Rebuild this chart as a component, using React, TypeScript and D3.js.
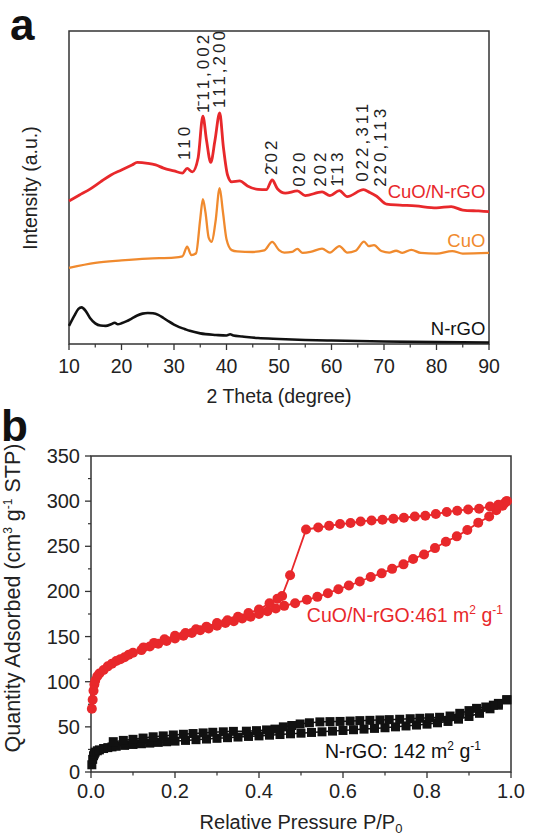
import * as d3 from 'd3'

const FONT = '"Liberation Sans", Arial, Helvetica, sans-serif'

// ---- panel a: XRD patterns, [2theta, intensity (a.u.)]
const nrgoXrd: [number, number][] = [
  [10, 5.8], [11, 9.0], [11.8, 11.2], [12.4, 11.7], [13.2, 10.5], [14, 8.3], [15, 6.6], [16, 5.9],
  [17, 5.8], [18, 6.3], [18.7, 6.8], [19.3, 6.3], [20, 6.6], [21, 7.3], [22, 8.2], [23, 9.1],
  [24, 9.7], [25, 9.9], [26, 9.8], [27, 9.3], [28, 8.3], [29, 7.2], [30, 6.2], [31, 5.4],
  [32, 4.8], [33, 4.2], [35, 3.4], [38, 2.9], [40, 2.7], [40.7, 3.1], [41.3, 2.7], [43, 2.4],
  [46, 1.9], [50, 1.6], [55, 1.3], [60, 1.1], [70, 0.8], [80, 0.6], [90, 0.5],
]

const cuoXrd: [number, number][] = [
  [10, 24.3], [15, 25.9], [20, 26.7], [25, 27.3], [30, 27.6], [31.6, 28], [32.5, 31.1], [33.3, 28.4],
  [34.2, 29], [35, 40], [35.5, 46.3], [36, 42], [36.6, 34], [37.2, 32.6], [37.9, 39], [38.7, 49.8],
  [39.3, 42.5], [40, 33.5], [41, 30], [42, 29.6], [45, 29.4], [47.2, 29.9], [48.7, 32.6], [50, 30],
  [51, 29.2], [52.5, 29.4], [53.5, 30.4], [54.5, 29.1], [56, 29.4], [58.2, 30.5], [59.7, 29.2],
  [61.5, 31.3], [63, 29.2], [64.6, 29.8], [66.2, 32.7], [67.1, 31.3], [68.1, 31.6], [69.5, 29.7],
  [71, 29.2], [72.3, 29.8], [73.5, 29.1], [75.2, 30.1], [77, 29.1], [80, 28.9], [83, 29.7],
  [85, 28.9], [90, 29.1],
]

const compositeXrd: [number, number][] = [
  [10, 45.7], [12, 47.6], [14, 49.5], [16, 51.8], [18, 54], [20, 55.6], [22, 57.2], [23, 58],
  [25, 57.7], [26.5, 57.2], [28, 56.2], [30, 55.3], [31.6, 54.6], [32.5, 56.1], [33.5, 55],
  [34.6, 59.5], [35.5, 72.8], [36.2, 65], [37, 58], [37.8, 65], [38.7, 73.8], [39.4, 63],
  [40.2, 54], [41, 51.8], [42.5, 52.1], [44, 50.5], [46, 49.4], [47.6, 49.3], [48.7, 52.4],
  [49.7, 49.6], [51.2, 48.2], [53.5, 48.9], [55, 47.4], [58.2, 48.6], [59.7, 47.4], [61.5, 49],
  [63, 47.1], [66.1, 49.3], [67.3, 48.4], [68.6, 47.2], [70.5, 44.7], [73, 44.4], [76, 44.1],
  [80, 43.5], [82.8, 43.9], [85, 42.8], [88, 42.5], [90, 42.3],
]

const xrdTicks = [10, 20, 30, 40, 50, 60, 70, 80, 90]
const xrdMinor = [15, 25, 35, 45, 55, 65, 75, 85]

// hkl labels: text, 2theta, intensity at the foot of the label
const hklLabels: [string, number, number][] = [
  ['110', 31.9, 58.8],
  ['1\u030411,002', 35.5, 73.8],
  ['111,200', 38.6, 75.4],
  ['2\u030402', 48.5, 54],
  ['020', 53.8, 50.2],
  ['202', 57.8, 50.2],
  ['1\u030413', 61.0, 50.2],
  ['022,311', 65.8, 51.8],
  ['220,113', 69.2, 50.2],
]

// ---- panel b: N2 isotherms, [P/P0, quantity adsorbed]
const compAds: [number, number][] = [
  [0.002, 70], [0.004, 80], [0.006, 90], [0.008, 97], [0.01, 101], [0.015, 106], [0.02, 109],
  [0.03, 113], [0.04, 117], [0.05, 120], [0.06, 123], [0.07, 125], [0.08, 127], [0.09, 130],
  [0.1, 132], [0.12, 135], [0.14, 139], [0.16, 142], [0.18, 145], [0.2, 148], [0.22, 151],
  [0.24, 154], [0.26, 157], [0.28, 159], [0.3, 162], [0.32, 165], [0.34, 167], [0.36, 170],
  [0.38, 172], [0.4, 175], [0.42, 178], [0.44, 181], [0.46, 184], [0.486, 187], [0.514, 190.7],
  [0.539, 194], [0.564, 198], [0.589, 202.5], [0.614, 206.5], [0.64, 211], [0.666, 216],
  [0.692, 220], [0.717, 225], [0.744, 230], [0.767, 236], [0.793, 241], [0.819, 248],
  [0.845, 255], [0.871, 261], [0.896, 268], [0.922, 276], [0.948, 283], [0.965, 290],
  [0.98, 295], [0.99, 300],
]

const compDes: [number, number][] = [
  [0.99, 300], [0.985, 298], [0.97, 296], [0.95, 294], [0.924, 291.6], [0.898, 290.8],
  [0.872, 289.4], [0.847, 288], [0.821, 285.7], [0.796, 283.8], [0.771, 283], [0.745, 281.6],
  [0.72, 280.5], [0.694, 279.4], [0.668, 278.6], [0.642, 277.5], [0.618, 275.7], [0.593, 274.6],
  [0.567, 272.7], [0.541, 270.8], [0.512, 268.5], [0.474, 218], [0.455, 195], [0.444, 192],
  [0.425, 187], [0.4, 180], [0.375, 176], [0.35, 172], [0.325, 168], [0.3, 165], [0.275, 161],
  [0.25, 158], [0.225, 154], [0.2, 151], [0.175, 147], [0.15, 143], [0.125, 138],
]

const nrgoAds: [number, number][] = [
  [0.002, 8], [0.004, 14], [0.006, 18], [0.008, 20], [0.01, 22], [0.015, 23.5], [0.02, 24.5],
  [0.03, 26], [0.04, 27], [0.05, 27.8], [0.06, 28.5], [0.08, 29.5], [0.1, 30.5], [0.12, 31.3],
  [0.14, 32], [0.16, 32.8], [0.18, 33.5], [0.2, 34.2], [0.225, 35], [0.25, 35.8], [0.275, 36.5],
  [0.3, 37.3], [0.325, 38], [0.35, 38.7], [0.375, 39.4], [0.4, 40], [0.425, 40.8], [0.45, 41.5],
  [0.475, 42.3], [0.5, 43], [0.525, 43.8], [0.55, 44.5], [0.575, 45.3], [0.6, 46], [0.625, 46.8],
  [0.65, 47.5], [0.675, 48.3], [0.7, 49], [0.725, 50], [0.75, 51], [0.775, 52], [0.8, 53],
  [0.825, 54.5], [0.85, 56], [0.875, 58.5], [0.9, 61.5], [0.925, 65], [0.95, 70], [0.97, 74],
  [0.99, 80],
]

const nrgoDes: [number, number][] = [
  [0.99, 80], [0.97, 76], [0.958, 74], [0.94, 72], [0.918, 70.5], [0.9, 68], [0.878, 65],
  [0.855, 62], [0.83, 60.6], [0.806, 60], [0.783, 59.5], [0.76, 59], [0.735, 58.4], [0.71, 58],
  [0.688, 57.6], [0.664, 57.2], [0.64, 56.9], [0.617, 56.4], [0.593, 56], [0.569, 55.8],
  [0.545, 55.5], [0.52, 54.5], [0.498, 53.2], [0.478, 51.5], [0.458, 50], [0.438, 47.5],
  [0.418, 46.6], [0.394, 45.8], [0.37, 45.2], [0.339, 45], [0.315, 44.5], [0.29, 44],
  [0.267, 43.3], [0.243, 42.6], [0.22, 41.8], [0.196, 41], [0.172, 40], [0.148, 39],
  [0.124, 37.6], [0.1, 36.2], [0.077, 35], [0.053, 33.6],
]

const qTicks = [0, 50, 100, 150, 200, 250, 300, 350]
const qMinor = [25, 75, 125, 175, 225, 275, 325]
const pTicks = [0, 0.2, 0.4, 0.6, 0.8, 1.0]
const pMinor = [0.1, 0.3, 0.5, 0.7, 0.9]

const RED = '#e8282b'
const ORANGE = '#f08a2e'
const BLACK = '#111'
const AXIS = '#333'

export default function App() {
  // panel a scales
  const xA = d3.scaleLinear().domain([10, 90]).range([69, 489])
  const yA = d3.scaleLinear().domain([0, 100]).range([344, 31])
  const lineA = d3
    .line<[number, number]>()
    .x((d) => xA(d[0]))
    .y((d) => yA(d[1]))
    .curve(d3.curveMonotoneX)

  // panel b scales
  const xB = d3.scaleLinear().domain([0, 1]).range([91, 511])
  const yB = d3.scaleLinear().domain([0, 350]).range([772, 456])
  const lineB = d3
    .line<[number, number]>()
    .x((d) => xB(d[0]))
    .y((d) => yB(d[1]))

  const sup = (s: string) => (
    <>
      <tspan dy={-8} fontSize={12}>
        {s}
      </tspan>
      <tspan dy={8}> </tspan>
    </>
  )

  return (
    <svg
      width={534}
      height={837}
      style={{ position: 'absolute', left: 0, top: 0, background: '#fff' }}
      fontFamily={FONT}
    >
      {/* ---------- panel a ---------- */}
      <text x={10} y={40} fontSize={44} fontWeight='bold' fill='#111'>
        a
      </text>
      <rect x={69} y={31} width={420} height={313} fill='none' stroke={AXIS} strokeWidth={1.5} />
      {xrdTicks.map((t) => (
        <g key={'ta' + t}>
          <line x1={xA(t)} x2={xA(t)} y1={344} y2={350} stroke={AXIS} strokeWidth={1.3} />
          <text x={xA(t)} y={373} fontSize={19.5} textAnchor='middle' fill='#222'>
            {t}
          </text>
        </g>
      ))}
      {xrdMinor.map((t) => (
        <line key={'ma' + t} x1={xA(t)} x2={xA(t)} y1={344} y2={347.5} stroke={AXIS} strokeWidth={1.2} />
      ))}
      <text x={279} y={403} fontSize={19.5} textAnchor='middle' fill='#222'>
        2 Theta (degree)
      </text>
      <text transform='translate(37,188) rotate(-90)' fontSize={19.5} textAnchor='middle' fill='#222'>
        Intensity (a.u.)
      </text>

      <path d={lineA(nrgoXrd) ?? ''} fill='none' stroke={BLACK} strokeWidth={2.6} />
      <path d={lineA(cuoXrd) ?? ''} fill='none' stroke={ORANGE} strokeWidth={2.3} />
      <path d={lineA(compositeXrd) ?? ''} fill='none' stroke={RED} strokeWidth={2.8} />

      {hklLabels.map(([label, th, v]) => (
        <text
          key={label}
          transform={`translate(${xA(th) + 6},${yA(v)}) rotate(-90)`}
          fontSize={17}
          letterSpacing={3}
          fill='#222'
        >
          {label}
        </text>
      ))}

      <text x={xA(89.3)} y={198} fontSize={18.5} textAnchor='end' fill={RED}>
        CuO/N-rGO
      </text>
      <text x={xA(89.3)} y={247} fontSize={18.5} textAnchor='end' fill={ORANGE}>
        CuO
      </text>
      <text x={xA(89.3)} y={335} fontSize={18.5} textAnchor='end' fill={BLACK}>
        N-rGO
      </text>

      {/* ---------- panel b ---------- */}
      <text x={1} y={441} fontSize={44} fontWeight='bold' fill='#111'>
        b
      </text>
      <rect x={91} y={456} width={420} height={316} fill='none' stroke={AXIS} strokeWidth={1.5} />
      {qTicks.map((t) => (
        <g key={'tq' + t}>
          <line x1={85} x2={91} y1={yB(t)} y2={yB(t)} stroke={AXIS} strokeWidth={1.3} />
          <text x={80} y={yB(t) + 7} fontSize={20} textAnchor='end' fill='#222'>
            {t}
          </text>
        </g>
      ))}
      {qMinor.map((t) => (
        <line key={'mq' + t} x1={88} x2={91} y1={yB(t)} y2={yB(t)} stroke={AXIS} strokeWidth={1.2} />
      ))}
      {pTicks.map((t) => (
        <g key={'tp' + t}>
          <line x1={xB(t)} x2={xB(t)} y1={772} y2={778} stroke={AXIS} strokeWidth={1.3} />
          <text x={xB(t)} y={798} fontSize={20} textAnchor='middle' fill='#222'>
            {t.toFixed(1)}
          </text>
        </g>
      ))}
      {pMinor.map((t) => (
        <line key={'mp' + t} x1={xB(t)} x2={xB(t)} y1={772} y2={775.5} stroke={AXIS} strokeWidth={1.2} />
      ))}
      <text x={301} y={829} fontSize={20} textAnchor='middle' fill='#222'>
        Relative Pressure P/P
        <tspan dy={4} fontSize={13}>
          0
        </tspan>
      </text>
      <text transform='translate(20,598) rotate(-90)' fontSize={21.5} textAnchor='middle' fill='#222'>
        Quantity Adsorbed (cm{sup('3')}g{sup('-1')}STP)
      </text>

      {/* N-rGO isotherm */}
      <path d={lineB(nrgoAds) ?? ''} fill='none' stroke={BLACK} strokeWidth={1.5} />
      <path d={lineB(nrgoDes) ?? ''} fill='none' stroke={BLACK} strokeWidth={1.5} />
      {[...nrgoAds, ...nrgoDes].map((d, i) => (
        <rect key={'sq' + i} x={xB(d[0]) - 4.5} y={yB(d[1]) - 4.5} width={9} height={9} fill={BLACK} />
      ))}

      {/* CuO/N-rGO isotherm */}
      <path d={lineB(compAds) ?? ''} fill='none' stroke={RED} strokeWidth={1.8} />
      <path d={lineB(compDes) ?? ''} fill='none' stroke={RED} strokeWidth={1.8} />
      {[...compAds, ...compDes].map((d, i) => (
        <circle key={'ci' + i} cx={xB(d[0])} cy={yB(d[1])} r={5} fill={RED} />
      ))}

      <text x={503} y={622} fontSize={19.5} textAnchor='end' fill={RED}>
        CuO/N-rGO:461 m{sup('2')}g{sup('-1')}
      </text>
      <text x={481} y={758} fontSize={19.5} textAnchor='end' fill={BLACK}>
        N-rGO: 142 m{sup('2')}g{sup('-1')}
      </text>
    </svg>
  )
}
